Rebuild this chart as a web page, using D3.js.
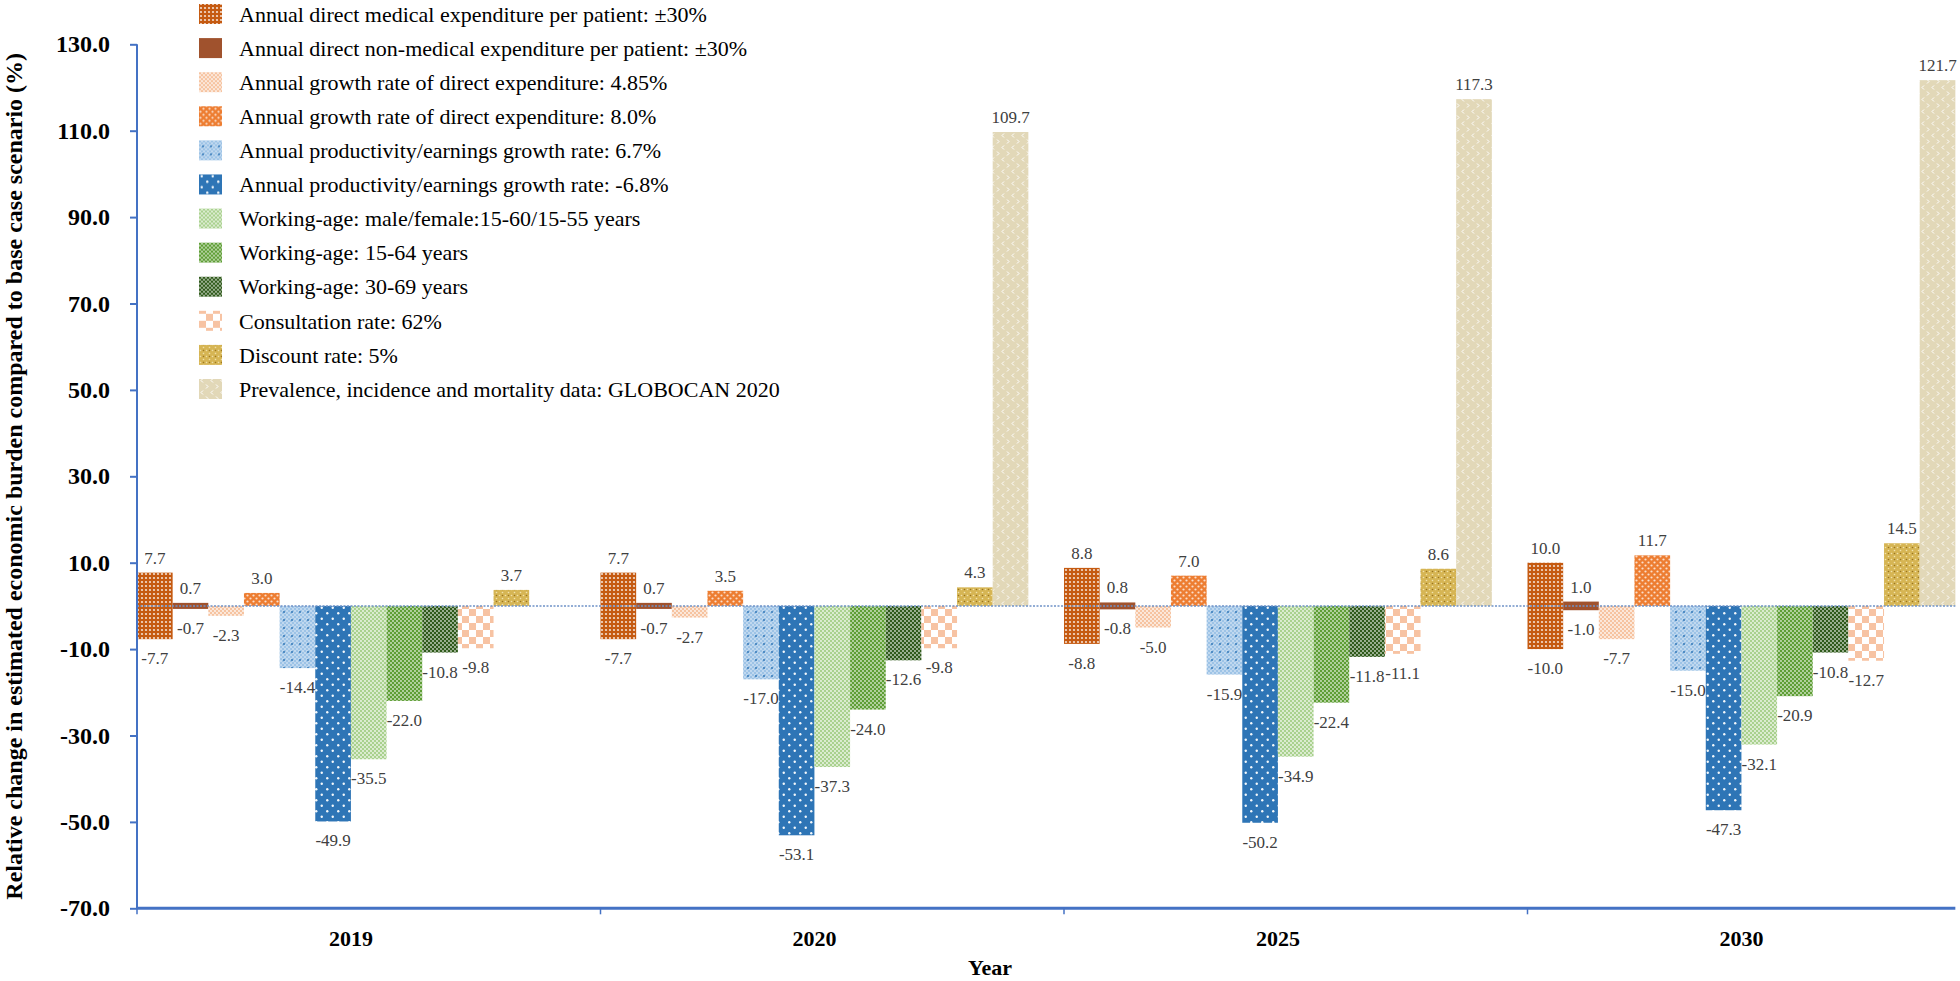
<!DOCTYPE html>
<html>
<head>
<meta charset="utf-8">
<script src="https://cdn.jsdelivr.net/npm/d3@7"></script>
<style>
  html, body { margin: 0; padding: 0; background: #fff; }
  svg { display: block; }
  text { font-family: "Liberation Serif", "Times New Roman", serif; }
</style>
</head>
<body>
<svg id="chart" width="1960" height="981"></svg>
<script>
// ---------- data ----------
const years = ["2019", "2020", "2025", "2030"];
const seriesNames = [
  "Annual direct medical expenditure per patient: \u00B130%",
  "Annual direct non-medical expenditure per patient: \u00B130%",
  "Annual growth rate of direct expenditure: 4.85%",
  "Annual growth rate of direct expenditure: 8.0%",
  "Annual productivity/earnings growth rate: 6.7%",
  "Annual productivity/earnings growth rate: -6.8%",
  "Working-age: male/female:15-60/15-55 years",
  "Working-age: 15-64 years",
  "Working-age: 30-69 years",
  "Consultation rate: 62%",
  "Discount rate: 5%",
  "Prevalence, incidence and mortality data: GLOBOCAN 2020"
];
// the two "±30%" series are symmetric (+v / -v)
const symmetric = [true, true, false, false, false, false, false, false, false, false, false, false];
const medical     = [7.7, 7.7, 8.8, 10.0];
const nonMedical  = [0.7, 0.7, 0.8, 1.0];
const growth485   = [-2.3, -2.7, -5.0, -7.7];
const growth80    = [3.0, 3.5, 7.0, 11.7];
const prod67      = [-14.4, -17.0, -15.9, -15.0];
const prodNeg68   = [-49.9, -53.1, -50.2, -47.3];
const workMF      = [-35.5, -37.3, -34.9, -32.1];
const work1564    = [-22.0, -24.0, -22.4, -20.9];
const work3069    = [-10.8, -12.6, -11.8, -10.8];
const consult62   = [-9.8, -9.8, -11.1, -12.7];
const discount5   = [3.7, 4.3, 8.6, 14.5];
const globocan    = [null, 109.7, 117.3, 121.7];
const seriesValues = [medical, nonMedical, growth485, growth80, prod67, prodNeg68,
                      workMF, work1564, work3069, consult62, discount5, globocan];
const yTicks = [-70, -50, -30, -10, 10, 30, 50, 70, 90, 110, 130];
const yTitle = "Relative change in estimated economic burden compared to base case scenario (%)";
const xTitle = "Year";

// ---------- setup ----------
const FONT = "Liberation Serif";
const svg = d3.select("#chart");
const W = 1960, H = 981;
svg.append("rect").attr("width", W).attr("height", H).attr("fill", "#fff");

const plotLeft = 137, bandW = 463.5;
const y = d3.scaleLinear().domain([-70, 130]).range([908.3, 44.3]);
const x = d3.scaleBand().domain(years).range([plotLeft, plotLeft + bandW * years.length]);
const slot = d3.scaleBand().domain(d3.range(13)).range([0, x.bandwidth()]);
const bw = slot.bandwidth();
const plotRight = x(years[years.length - 1]) + slot(11) + bw;

// ---------- patterns ----------
const defs = svg.append("defs");
function pat(id, w, h, bg, draw) {
  const p = defs.append("pattern").attr("id", id).attr("patternUnits", "userSpaceOnUse")
    .attr("width", w).attr("height", h);
  p.append("rect").attr("width", w).attr("height", h).attr("fill", bg);
  draw(p);
}
function dots(p, pts, r, fill, op) {
  pts.forEach(([cx, cy]) => p.append("circle").attr("cx", cx).attr("cy", cy).attr("r", r)
    .attr("fill", fill).attr("fill-opacity", op == null ? 1 : op));
}
pat("p0", 4, 4, "#C55A11", p => dots(p, [[2, 2]], 1.1, "#fff", 0.8));
pat("p1", 4, 4, "#A0522D", p => {});
pat("p2", 4, 4, "#F6C3A0", p => dots(p, [[1, 1], [3, 3]], 0.9, "#fff", 0.9));
pat("p3", 6, 6, "#ED7D31", p => dots(p, [[1.5, 1.5], [4.5, 4.5]], 1.1, "#fff", 0.75));
pat("p4", 8, 8, "#9DC3E6", p => {
  dots(p, [[1, 1], [3, 3], [5, 5], [7, 7], [1, 5], [5, 1], [3, 7], [7, 3]], 0.8, "#fff", 0.8);
  dots(p, [[4, 4]], 1.1, "#2E75B6", 0.9);
});
pat("p5", 11, 11, "#2E75B6", p => dots(p, [[2.75, 2.75], [8.25, 8.25]], 1.2, "#fff", 0.95));
pat("p6", 4, 4, "#A9D18E", p => dots(p, [[1, 1], [3, 3]], 0.9, "#fff", 0.85));
pat("p7", 4, 4, "#5E9E35", p => dots(p, [[1, 1], [3, 3]], 0.9, "#fff", 0.75));
pat("p8", 4, 4, "#2F5A1B", p => dots(p, [[1, 1], [3, 3]], 0.9, "#fff", 0.75));
pat("p9", 14, 14, "#fff", p => {
  p.append("rect").attr("x", 0).attr("y", 0).attr("width", 7).attr("height", 7).attr("fill", "#F7C3A3");
  p.append("rect").attr("x", 7).attr("y", 7).attr("width", 7).attr("height", 7).attr("fill", "#F7C3A3");
});
pat("p10", 6, 6, "#D6B554", p => {
  dots(p, [[1.5, 1.5], [4.5, 4.5]], 0.8, "#F5E8B8", 0.9);
  dots(p, [[4.5, 1.5]], 0.8, "#8A6410", 0.8);
});
pat("p11", 10, 12, "#E2D8B8", p => {
  p.append("path").attr("d", "M4,1.5 L2,3.5 L4,5.5").attr("fill", "none").attr("stroke", "#fff").attr("stroke-width", 1);
  p.append("path").attr("d", "M7,7.5 L9,9.5 L7,11.5").attr("fill", "none").attr("stroke", "#fff").attr("stroke-width", 1);
});

// ---------- bars ----------
const bars = [];
years.forEach((yr, j) => {
  seriesValues.forEach((vals, i) => {
    const v = vals[j];
    if (v == null) return;
    bars.push({ year: yr, i, v, sym: symmetric[i] });
  });
});

const gBars = svg.append("g");
gBars.selectAll("rect").data(bars).join("rect")
  .attr("x", d => x(d.year) + slot(d.i))
  .attr("width", bw)
  .attr("y", d => d.sym ? y(Math.abs(d.v)) : y(Math.max(0, d.v)))
  .attr("height", d => d.sym ? y(-Math.abs(d.v)) - y(Math.abs(d.v)) : Math.abs(y(d.v) - y(0)))
  .attr("fill", d => `url(#p${d.i})`);

// zero line
svg.append("line")
  .attr("x1", plotLeft).attr("x2", plotRight)
  .attr("y1", y(0)).attr("y2", y(0))
  .attr("stroke", "#6F93C8").attr("stroke-width", 1.5).attr("stroke-dasharray", "2,1.5");

// ---------- labels ----------
const f1 = d3.format(".1f");
const fmt = v => f1(v).replace("\u2212", "-");
const labels = [];
bars.forEach(d => {
  if (d.sym) {
    labels.push({ year: d.year, i: d.i, v: d.v, side: 1 });
    labels.push({ year: d.year, i: d.i, v: -d.v, side: -1 });
  } else {
    labels.push({ year: d.year, i: d.i, v: d.v, side: d.v >= 0 ? 1 : -1 });
  }
});
svg.append("g").selectAll("text").data(labels).join("text")
  .attr("x", d => x(d.year) + slot(d.i) + bw / 2)
  .attr("y", d => d.side > 0 ? y(d.v) - 9 : y(d.v) + 25)
  .attr("text-anchor", "middle")
  .attr("font-family", FONT)
  .attr("font-size", 17)
  .attr("fill", "#404040")
  .text(d => fmt(d.v));

// ---------- axes ----------
const axisColor = "#4472C4";
const yAxis = svg.append("g").attr("transform", `translate(${plotLeft},0)`)
  .call(d3.axisLeft(y).tickValues(yTicks).tickSize(7).tickPadding(20).tickFormat(fmt));
yAxis.select(".domain").attr("stroke", axisColor).attr("stroke-width", 2).attr("d", `M0,${y(130)}V${y(-70)}`);
yAxis.selectAll(".tick line").attr("stroke", axisColor).attr("stroke-width", 2);
yAxis.selectAll(".tick text").attr("font-family", FONT).attr("font-weight", "bold")
  .attr("font-size", 24).attr("fill", "#000");

// x axis
const gx = svg.append("g");
gx.append("line").attr("x1", plotLeft).attr("x2", plotRight)
  .attr("y1", y(-70)).attr("y2", y(-70)).attr("stroke", axisColor).attr("stroke-width", 3);
gx.selectAll("line.tk").data(years).join("line").attr("class", "tk")
  .attr("x1", d => x(d)).attr("x2", d => x(d))
  .attr("y1", y(-70)).attr("y2", y(-70) + 6)
  .attr("stroke", axisColor).attr("stroke-width", 1.5);
gx.selectAll("text").data(years).join("text")
  .attr("x", d => x(d) + slot(6))
  .attr("y", y(-70) + 38)
  .attr("text-anchor", "middle").attr("font-family", FONT).attr("font-weight", "bold")
  .attr("font-size", 22).attr("fill", "#000")
  .text(d => d);

// titles
svg.append("text")
  .attr("transform", `translate(22,${(y(130) + y(-70)) / 2}) rotate(-90)`)
  .attr("text-anchor", "middle").attr("font-family", FONT).attr("font-weight", "bold")
  .attr("font-size", 24).attr("fill", "#000")
  .text(yTitle);
svg.append("text")
  .attr("x", W / 2 + 10).attr("y", y(-70) + 67)
  .attr("text-anchor", "middle").attr("font-family", FONT).attr("font-weight", "bold")
  .attr("font-size", 22).attr("fill", "#000")
  .text(xTitle);

// ---------- legend ----------
const ly = d3.scalePoint().domain(d3.range(seriesNames.length)).range([14, 389]);
const leg = svg.append("g");
const li = leg.selectAll("g").data(seriesNames).join("g")
  .attr("transform", (d, i) => `translate(199,${ly(i)})`);
li.append("rect").attr("x", 0).attr("y", -10).attr("width", 23).attr("height", 20)
  .attr("fill", (d, i) => `url(#p${i})`);
li.append("text").attr("x", 40).attr("y", 0).attr("dy", "0.35em")
  .attr("font-family", FONT).attr("font-size", 22).attr("fill", "#000").text(d => d);
</script>
</body>
</html>
